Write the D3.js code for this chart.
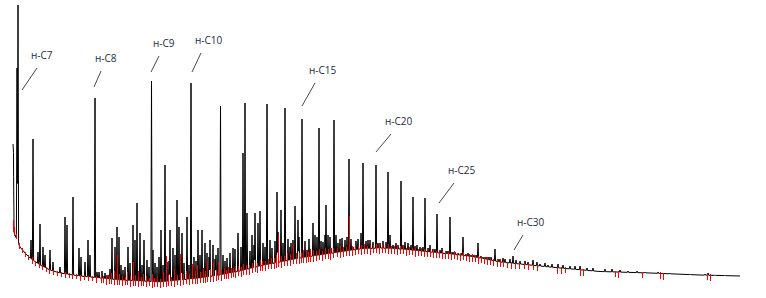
<!DOCTYPE html>
<html><head><meta charset="utf-8">
<script src="https://cdn.jsdelivr.net/npm/d3@7"></script>
<style>html,body{margin:0;padding:0;background:#fff;}svg{display:block}</style>
</head><body><svg id="c" width="766" height="298"></svg>
<script>
// Retention time (min) and signal (arbitrary units)
const baseT = [0.3,0.5,1.0,1.5,2.0,3.0,4.0,5.0,7.0,9.0,11.0,13.0,15.0,17.0,19.0,21.0,23.0,25.0,27.0,29.0,31.0,33.0,35.0,37.0,39.0,41.0,43.0,45.0,47.0,49.0,52.0,55.0,59.0,64.0,69.0,73.0];
const baseV = [55,50,38,32,27,20,15,12,9,7,5,4,3,5,7,10,14,19,23,27,30,33,36,37,36,34,32,30,27,23,20,17,13.5,12,10,9];

// peaks: [retention time, apex signal]
const peaks = [
[0.3,130],[0.35,120],[0.7,217],[0.8,280],[2.1,45],[2.3,146],[2.8,33],[3.0,61],[3.3,38],[3.5,30],[4.0,35],
[4.3,23],[5.0,18],[5.5,68],[5.7,60],[6.3,88],[6.9,37],[7.1,28],[7.5,23],[7.8,45],[8.0,30],
[8.5,187],[8.7,13],[8.9,13],[9.2,14],[9.5,12],[9.8,10],[10.0,16],[10.2,47],[10.5,38],[10.7,58],
[10.9,48],[11.1,20],[11.3,15],[11.5,18],[11.8,38],[12.0,22],[12.3,60],[12.5,45],[12.7,82],[13.0,52],
[13.2,20],[13.4,45],[13.7,25],[13.9,18],[14.15,204],[14.3,35],[14.5,22],[14.7,18],[14.9,28],[15.1,55],
[15.3,20],[15.5,120],[15.7,23],[15.9,24],[16.0,55],[16.3,37],[16.5,30],[16.7,85],[16.9,58],[17.1,26],
[17.2,52],[17.4,22],[17.7,68],[17.9,20],[18.1,202],[18.4,28],[18.6,24],[18.8,55],[19.0,30],[19.2,55],
[19.5,42],[19.7,32],[19.9,28],[20.0,45],[20.3,40],[20.5,26],[20.6,30],[20.8,37],[21.05,179],[21.3,30],
[21.5,24],[21.7,27],[22.0,32],[22.3,37],[22.5,36],[22.8,52],[23.1,38],[23.3,132],[23.5,182],[23.7,72],
[24.0,34],[24.2,50],[24.4,40],[24.5,72],[24.8,62],[25.0,74],[25.3,42],[25.5,38],[25.7,181],[26.0,45],
[26.2,37],[26.5,44],[26.7,93],[26.8,53],[27.1,75],[27.3,42],[27.5,177],[27.8,46],[28.0,38],[28.1,42],
[28.3,45],[28.5,79],[28.8,65],[28.9,48],[29.2,166],[29.5,44],[29.7,35],[29.9,46],[30.3,62],[30.5,50],
[30.7,48],[30.9,157],[31.1,44],[31.3,43],[31.5,50],[31.6,80],[31.8,50],[32.0,48],[32.1,37],[32.4,165],
[32.6,50],[32.8,42],[33.0,46],[33.2,47],[33.5,45],[33.7,48],[33.9,126],[34.1,46],[34.3,38],[34.6,44],
[34.8,46],[35.1,52],[35.3,122],[35.6,44],[35.8,45],[36.0,45],[36.3,43],[36.6,120],[36.8,42],[37.0,42],
[37.3,44],[37.6,43],[37.8,113],[38.0,50],[38.3,40],[38.6,42],[38.8,40],[39.1,104],[39.3,40],[39.5,43],
[39.8,42],[40.1,40],[40.3,88],[40.5,39],[40.7,40],[41.0,38],[41.3,38],[41.5,87],[41.8,37],[42.0,40],
[42.3,36],[42.5,36],[42.7,71],[43.0,35],[43.2,37],[43.6,34],[43.8,34],[44.0,68],[44.3,33],[44.5,33],
[44.8,32],[45.1,32],[45.3,48],[45.6,31],[45.8,32],[46.1,30],[46.4,30],[46.6,30],[46.8,42],[47.1,29],
[47.3,28],[47.6,28],[47.9,28],[48.1,28],[48.5,36],[48.8,26],[49.0,26],[49.3,27],[49.5,26],[50.0,26],
[50.3,29],[50.6,25],[51.0,24],[51.5,24],[51.8,23],[52.3,25],[52.7,23],[53.0,21],[53.5,22],[53.8,20],
[54.2,21],[54.8,21],[55.3,20],[56.0,19],[56.5,19],[57.0,19],[57.7,17],[58.3,17],[59.5,16],[60.2,16],
[61.0,15],[61.8,14],[62.7,14],[63.5,13],[64.8,13],[66.0,12],[68.0,11],[69.5,11],[69.8,12],[70.5,10],[71.5,10]
];

// red integration marks: [retention time, extent above baseline, extent below baseline]
const redMarks = [
[0.3,10,2],[0.4,6,3],[0.6,3,2],[0.9,2,4],[1.2,1,4],[1.5,1,4],[1.8,1,4],[2.2,2,5],[2.5,1,4],[2.9,2,4],
[3.2,1,4],[3.6,1,4],[3.9,1,4],[4.3,1,4],[4.7,1,4],[5.1,1,4],[5.5,2,4],[5.9,1,4],[6.2,1,4],[6.6,1,4],
[7.0,1,5],[7.4,1,4],[7.8,1,4],[8.2,1,4],[8.6,2,5],
[9.1,3,5],[9.3,2,5],[9.6,4,6],[9.9,3,5],[10.1,6,5],[10.4,8,6],[10.7,25,5],[10.9,6,5],[11.2,4,6],[11.5,3,5],
[11.7,8,5],[12.0,5,6],[12.3,19,5],[12.5,6,5],[12.8,10,6],[13.1,4,5],[13.3,7,5],[13.6,5,6],[13.9,3,5],[14.2,8,6],
[14.4,4,5],[14.7,6,5],[15.0,3,6],[15.3,10,5],[15.6,25,6],[15.8,6,5],[16.1,4,5],[16.4,12,6],[16.7,5,5],[17.0,26,6],
[17.3,6,5],[17.6,8,5],[17.9,5,6],[18.2,15,5],[18.5,8,5],[18.7,13,6],[19.0,6,5],[19.3,10,5],[19.5,6,6],[19.7,16,5],
[20.0,8,5],[20.3,14,6],[20.6,6,5],[20.8,13,5],[21.1,5,6],[21.4,6,5],[21.6,4,5],[21.8,6,6],[22.1,5,5],[22.3,4,5],
[22.5,6,6],[22.8,5,5],[23.1,4,6],[23.3,6,5],[23.6,5,5],[23.9,4,6],[24.2,5,5],[24.5,6,5],[24.7,4,6],[25.0,6,5],
[25.2,5,5],[25.5,4,6],[25.8,5,5],[26.1,6,5],[26.4,5,6],[26.6,8,5],[26.8,26,5],[27.1,6,6],[27.4,5,5],[27.7,8,5],
[28.0,6,6],[28.3,15,5],[28.6,6,5],[28.9,5,6],[29.1,5,5],[29.3,8,5],[29.6,6,6],[29.8,5,5],[30.0,8,5],[30.3,6,6],
[30.6,5,5],[30.9,6,5],[31.2,4,6],[31.5,6,5],[31.8,5,5],[32.0,6,6],[32.3,5,5],[32.7,4,5],[33.0,6,6],[33.3,5,5],
[33.6,4,5],[33.9,35,5],[34.2,4,6],[34.5,5,5],[34.8,3,5],[35.1,4,6],[35.4,5,5],[35.7,3,5],[36.0,4,6],[36.3,3,5],
[36.6,4,5],[36.9,3,6],[37.2,4,5],[37.5,3,5],[37.8,4,6],[38.1,3,5],[38.4,3,5],[38.7,4,6],[39.0,3,5],[39.3,3,5],
[39.6,2,6],[39.9,3,5],[40.2,2,5],[40.5,3,6],[40.8,2,5],[41.1,3,5],[41.4,2,6],[41.7,3,5],[42.0,2,5],[42.3,3,6],
[42.6,2,5],[42.9,3,5],[43.2,2,6],[43.5,3,5],[43.8,2,5],[44.1,2,6],[44.4,3,5],[44.7,2,5],[45.0,2,6],[45.3,3,5],
[45.6,2,5],[45.9,2,6],[46.2,3,5],[46.5,2,5],[46.8,2,6],[47.1,2,5],[47.4,2,5],[47.7,2,6],[48.0,2,5],[48.3,2,5],
[48.7,2,6],[49.0,2,5],[49.3,1,5],[49.7,1,5],[50.1,1,6],[50.5,1,5],[50.9,1,5],[51.4,1,5],[51.8,1,5],[52.3,1,5],
[52.7,1,5],[54.7,1,6],[55.1,1,6],[55.5,1,5],[57.0,1,6],[57.3,1,6],[60.5,1,5],[60.8,1,6],[63.2,1,5],[65.0,1,6],
[65.3,1,6],[69.7,1,5],[70.0,1,6]
];

// peak labels
const labelText = ["н-C7","н-C8","н-C9","н-C10","н-C15","н-C20","н-C25","н-C30"];
const labelAnchorT = [1.2,8.4,14.1,18.2,29.2,36.6,42.9,50.4];
const labelAnchorV = [195,198,213,213,179,133,82,35];
const labelTextT = [2.1,8.5,14.3,18.5,29.9,37.5,43.8,50.7];
const labelTextV = [226,223,238,241,211,160,111,59];

const svg = d3.select("#c");
const x = d3.scaleLinear().domain([0,73]).range([10,740]);
const y = d3.scaleLinear().domain([0,280]).range([285,5]);
const base = d3.scaleLinear().domain(baseT).range(baseV).clamp(true);

const W = 0.06;
let ts = baseT.slice();
peaks.forEach(p => { ts.push(p[0]-W, p[0], p[0]+W); });
ts = Array.from(new Set(ts.map(t=>+t.toFixed(4)))).filter(t=>t>=baseT[0]&&t<=baseT[baseT.length-1]).sort((a,b)=>a-b);
const sig = ts.map(t => {
  let v = base(t);
  peaks.forEach(p => {
    const h = Math.max(0, p[1]-base(p[0]));
    const d = Math.abs(t-p[0]);
    if (d < W) v += h*(1-d/W);
  });
  return [t, v];
});

svg.append("path")
  .attr("d", d3.line().x(d=>x(d[0])).y(d=>y(d[1]))(sig))
  .attr("fill","none").attr("stroke","#000").attr("stroke-width",1)
  .attr("stroke-linejoin","bevel");

svg.append("g").attr("shape-rendering","crispEdges")
  .selectAll("line").data(redMarks).join("line")
  .attr("x1", d=>Math.round(x(d[0]))+0.5).attr("x2", d=>Math.round(x(d[0]))+0.5)
  .attr("y1", d=>y(base(d[0])+d[1])).attr("y2", d=>y(base(d[0])-d[2]))
  .attr("stroke","#ff0000").attr("stroke-width",1);

const lg = svg.append("g");
labelText.forEach((s,i) => {
  const tx = x(labelTextT[i]), ty = y(labelTextV[i]);
  lg.append("line")
    .attr("x1", x(labelAnchorT[i])).attr("y1", y(labelAnchorV[i]))
    .attr("x2", tx+6).attr("y2", ty+9)
    .attr("stroke","#333").attr("stroke-width",0.9);
  lg.append("text").attr("x",tx).attr("y",ty).text(s)
    .attr("font-family","'Open Sans', sans-serif").attr("font-size","10px")
    .attr("fill","#1e2a3c");
});
</script></body></html>
